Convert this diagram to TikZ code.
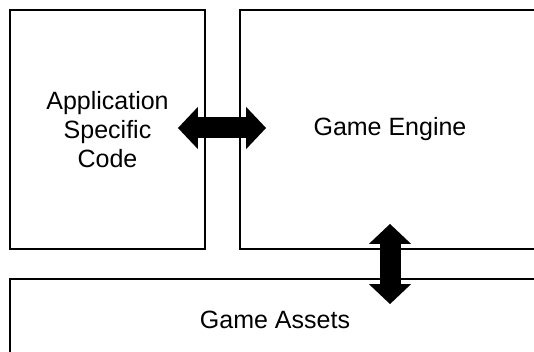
\documentclass[tikz,border=0pt]{standalone}
\usepackage{fontspec}
\setmainfont{Liberation Sans}
\usetikzlibrary{arrows.meta, positioning}

\begin{document}
\begin{tikzpicture}[x=1pt,y=1pt,on grid,
  block/.style={draw,line width=1.8pt,inner sep=0pt,align=center,
    font=\fontsize{25}{29}\selectfont},
  bigarrow/.style={line width=21pt,{Triangle[length=20pt,width=41pt]}-{Triangle[length=20pt,width=41pt]}}]
 \useasboundingbox (0,0) rectangle (534,351);
 \node[block,minimum width=195pt,minimum height=239pt] (app) at (107.5,221.5) {Application\\Specific\\Code};
 \node[block,minimum width=300pt,minimum height=239pt] (engine) [right=282.5pt of app] {Game Engine};
 \node[block,minimum width=530pt,minimum height=82pt] (assets) at (275,31) {Game Assets};
 \draw[bigarrow] ([xshift=-28pt,yshift=1.5pt]app.east) -- ([xshift=27pt,yshift=1.5pt]engine.west);
 \draw[bigarrow] ([yshift=26pt]engine.south) -- ([yshift=-26pt]engine.south |- assets.north);
\end{tikzpicture}
\end{document}
